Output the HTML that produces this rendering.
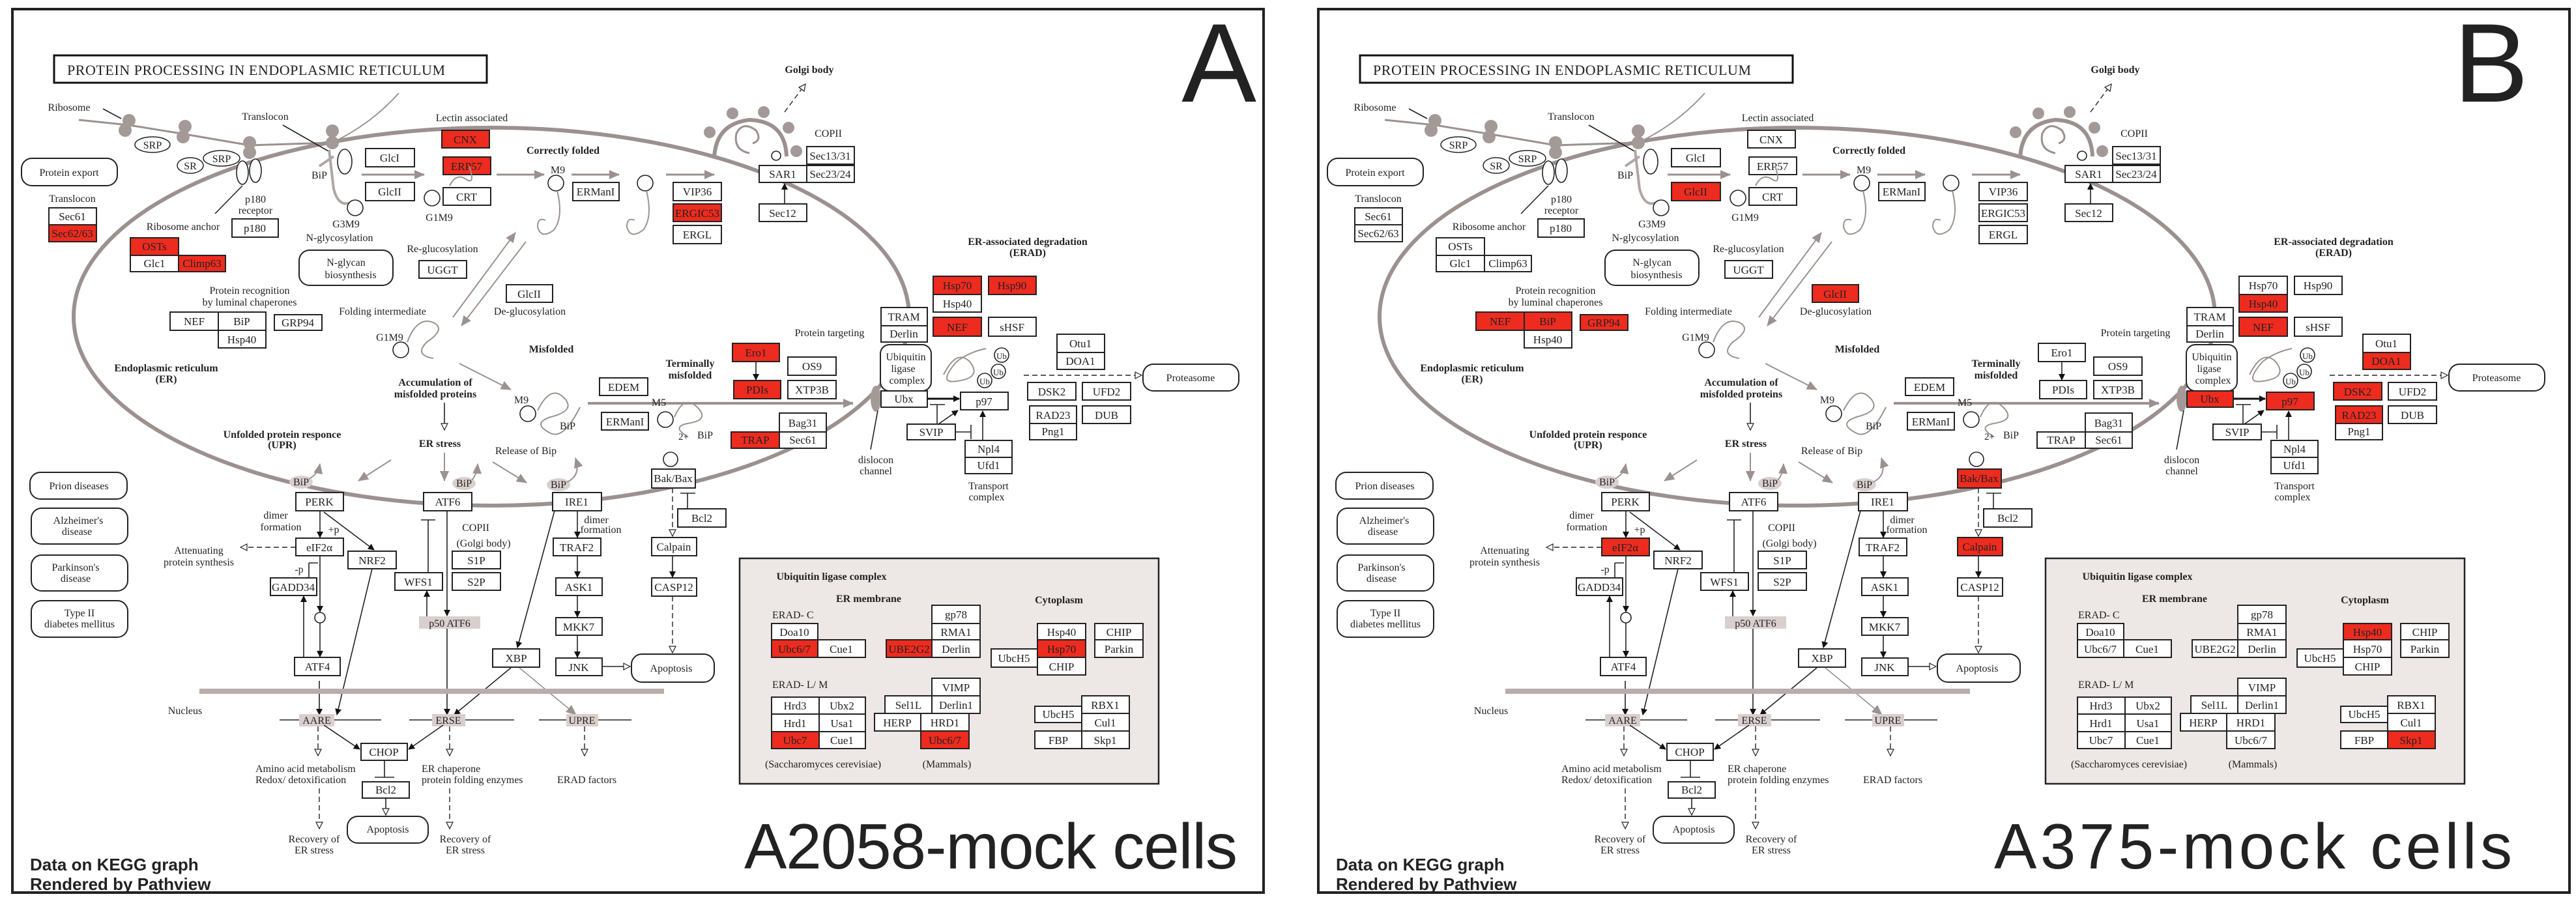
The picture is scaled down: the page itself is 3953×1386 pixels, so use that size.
<!DOCTYPE html>
<html><head><meta charset="utf-8"><style>
html,body{margin:0;padding:0;background:#fff}
svg{display:block}
text{font-family:"Liberation Serif",serif;fill:#222}
.bx rect{fill:#fff;stroke:#222;stroke-width:2}
.bx rect.r{fill:#ee2b1f}
.bt{font-size:17px;text-anchor:middle}
.lb{font-size:16px;text-anchor:middle}
.bo{font-size:16px;font-weight:bold;text-anchor:middle}
.rr{fill:#fff;stroke:#222;stroke-width:2}
.ln{stroke:#222;stroke-width:1.6;fill:none}
.dl{stroke:#222;stroke-width:1.4;fill:none;stroke-dasharray:8 5}
.gl{stroke:#9b918e;stroke-width:3;fill:none}
.mem{stroke:#9b918e;stroke-width:6;fill:none}
.ci{fill:#fff;stroke:#222;stroke-width:1.6}
.gc{fill:#a39a97}
.hl{fill:#d9d0cd}
.sans{font-family:"Liberation Sans",sans-serif}
</style></head><body>
<svg width="3953" height="1386" viewBox="0 0 3953 1386" xmlns="http://www.w3.org/2000/svg">
<defs>
<marker id="ab" markerWidth="10" markerHeight="10" refX="9" refY="5" orient="auto" markerUnits="userSpaceOnUse"><path d="M0,0 L10,5 L0,10z" fill="#111"/></marker>
<marker id="ao" markerWidth="12" markerHeight="12" refX="11" refY="6" orient="auto" markerUnits="userSpaceOnUse"><path d="M1,1 L11,6 L1,11z" fill="#fff" stroke="#222" stroke-width="1.2"/></marker>
<marker id="ag" markerWidth="16" markerHeight="14" refX="15" refY="7" orient="auto" markerUnits="userSpaceOnUse"><path d="M0,0 L16,7 L0,14z" fill="#9b918e"/></marker>
</defs>
<rect width="3953" height="1386" fill="#fff"/>

<!-- ================= PANEL A ================= -->
<g>
<rect x="19" y="14" width="1920" height="1356" fill="none" stroke="#222" stroke-width="4"/>
<rect x="83" y="85" width="664" height="42" fill="#fff" stroke="#111" stroke-width="3"/>
<text x="103" y="115" style="font-size:22px" textLength="580">PROTEIN PROCESSING IN ENDOPLASMIC RETICULUM</text>

<ellipse class="mem" cx="754" cy="486" rx="641" ry="290"/>
<path d="M1096,243 Q1098,190 1150,184 Q1205,186 1207,240" stroke="#9b918e" stroke-width="6" fill="none"/>
<path d="M1150,235 q-25,-5 -20,-30 q10,-20 30,-5 q10,15 -5,20" class="gl" stroke-width="2"/>
<circle class="gc" cx="1089" cy="203" r="9"/><circle class="gc" cx="1124" cy="174" r="9"/><circle class="gc" cx="1172" cy="172" r="9"/><circle class="gc" cx="1210" cy="196" r="9"/><circle class="gc" cx="1222" cy="232" r="9"/>
<circle class="ci" cx="1191" cy="239" r="7"/>
<path class="dl" d="M1204,172 L1236,129" marker-end="url(#ao)"/>
<text class="bo" x="1242" y="112">Golgi body</text>
<text class="lb" x="1271" y="210">COPII</text>

<!-- ribosomes -->
<text class="lb" x="106" y="170">Ribosome</text>
<path class="ln" d="M158,167 L186,182" stroke="#666"/>
<path d="M121,184 L198,192 L284,206 L383,223 L510,219" stroke="#9b918e" stroke-width="3" fill="none"/>
<path d="M510,219 Q570,190 612,143" stroke="#9b918e" stroke-width="2" fill="none"/>
<circle class="gc" cx="198" cy="185" r="10"/><circle class="gc" cx="192" cy="200" r="10"/>
<circle class="gc" cx="284" cy="194" r="10"/><circle class="gc" cx="281" cy="210" r="10"/>
<circle class="gc" cx="383" cy="219" r="10"/><circle class="gc" cx="383" cy="234" r="10"/>
<circle class="gc" cx="510" cy="201" r="10"/><circle class="gc" cx="510" cy="219" r="10"/>
<ellipse cx="234" cy="222" rx="27" ry="12" fill="#fff" stroke="#222" stroke-width="1.5"/><text class="lb" x="234" y="228">SRP</text>
<ellipse cx="292" cy="254" rx="20" ry="12" fill="#fff" stroke="#222" stroke-width="1.5"/><text class="lb" x="292" y="260">SR</text>
<ellipse cx="340" cy="243" rx="28" ry="12" fill="#fff" stroke="#222" stroke-width="1.5"/><text class="lb" x="340" y="249">SRP</text>
<text class="lb" x="407" y="184">Translocon</text>
<path class="ln" d="M434,192 L504,232" stroke-width="1"/>
<path class="ln" d="M372,285 L330,328" stroke-width="1"/>
<ellipse class="ci" cx="372" cy="265" rx="9" ry="18"/><ellipse class="ci" cx="392" cy="262" rx="9" ry="18"/>
<text class="lb" x="392" y="311">p180</text><text class="lb" x="392" y="328">receptor</text>
<g class="bx"><rect x="356" y="336" width="71" height="28"/><text class="bt" x="391" y="356">p180</text></g>
<text class="lb" x="281" y="353">Ribosome anchor</text>
<g class="bx"><rect class="r" x="200" y="365" width="74" height="27"/><text class="bt" x="237" y="384">OSTs</text>
<rect x="200" y="392" width="74" height="25"/><text class="bt" x="237" y="410">Glc1</text>
<rect class="r" x="274" y="392" width="72" height="25"/><text class="bt" x="310" y="410">Climp63</text></g>

<rect class="rr" x="33" y="243" width="147" height="42" rx="16"/><text class="lb" x="106" y="270">Protein export</text>
<text class="lb" x="111" y="310">Translocon</text>
<g class="bx"><rect x="75" y="319" width="73" height="26"/><text class="bt" x="111" y="338">Sec61</text>
<rect class="r" x="75" y="345" width="73" height="26"/><text class="bt" x="111" y="364">Sec62/63</text></g>

<!-- BiP / glycosylation -->
<path d="M505,230 L512,290 Q520,320 540,310 M512,240 L490,255" stroke="#b0a6a3" stroke-width="4" fill="none"/>
<text class="lb" x="490" y="274">BiP</text>
<ellipse class="ci" cx="529" cy="248" rx="11" ry="19"/>
<circle class="ci" cx="545" cy="319" r="12"/>
<text class="lb" x="531" y="349">G3M9</text>
<text class="lb" x="521" y="370">N-glycosylation</text>
<rect class="rr" x="459" y="384" width="144" height="54" rx="16"/><text class="lb" x="531" y="408">N-glycan</text><text class="lb" x="538" y="427">biosynthesis</text>
<g class="bx"><rect x="561" y="228" width="75" height="28"/><text class="bt" x="598" y="248">GlcI</text>
<rect x="561" y="280" width="75" height="28"/><text class="bt" x="598" y="300">GlcII</text></g>
<path class="gl" d="M555,268 L651,268" marker-end="url(#ag)"/>
<text class="lb" x="724" y="186">Lectin associated</text>
<g class="bx"><rect class="r" x="678" y="200" width="73" height="27"/><text class="bt" x="714" y="220">CNX</text>
<rect class="r" x="680" y="241" width="73" height="27"/><text class="bt" x="716" y="261">ERP57</text>
<rect x="680" y="288" width="73" height="27"/><text class="bt" x="716" y="308">CRT</text></g>
<path d="M690,285 q10,-20 25,-10 q15,10 5,-20" stroke="#9b918e" stroke-width="2" fill="none"/>
<circle class="ci" cx="663" cy="304" r="12"/>
<text class="lb" x="674" y="339">G1M9</text>
<text class="lb" x="679" y="387">Re-glucosylation</text>
<g class="bx"><rect x="643" y="400" width="73" height="27"/><text class="bt" x="679" y="420">UGGT</text></g>
<text class="bo" x="864" y="236">Correctly folded</text>
<path class="gl" d="M762,268 L835,268" marker-end="url(#ag)"/>
<path class="gl" d="M877,268 L950,268" marker-end="url(#ag)"/>
<path class="gl" d="M1022,268 L1096,268" marker-end="url(#ag)"/>
<text class="lb" x="856" y="266">M9</text><circle class="ci" cx="853" cy="281" r="12"/>
<path d="M855,293 q10,40 -5,60 q-20,15 -25,-5 q0,-15 12,-10" stroke="#9b918e" stroke-width="2" fill="none"/>
<circle class="ci" cx="990" cy="281" r="12"/>
<path d="M992,293 q10,40 -5,60 q-20,15 -25,-5 q0,-15 12,-10" stroke="#9b918e" stroke-width="2" fill="none"/>
<g class="bx"><rect x="879" y="280" width="71" height="28"/><text class="bt" x="914" y="300">ERManI</text></g>
<g class="bx"><rect x="1033" y="280" width="74" height="28"/><text class="bt" x="1070" y="300">VIP36</text>
<rect class="r" x="1033" y="313" width="74" height="27"/><text class="bt" x="1070" y="333">ERGIC53</text>
<rect x="1033" y="346" width="74" height="28"/><text class="bt" x="1070" y="366">ERGL</text></g>
<g class="bx"><rect x="1238" y="225" width="73" height="27"/><text class="bt" x="1274" y="245">Sec13/31</text>
<rect x="1165" y="254" width="73" height="26"/><text class="bt" x="1201" y="273">SAR1</text>
<rect x="1238" y="254" width="73" height="26"/><text class="bt" x="1274" y="273">Sec23/24</text>
<rect x="1165" y="313" width="73" height="27"/><text class="bt" x="1201" y="333">Sec12</text></g>
<path class="ln" d="M1204,313 L1204,282" marker-end="url(#ab)"/>

<text class="lb" x="383" y="451">Protein recognition</text><text class="lb" x="383" y="469">by luminal chaperones</text>
<g class="bx"><rect x="261" y="479" width="74" height="28"/><text class="bt" x="298" y="499">NEF</text>
<rect x="335" y="479" width="73" height="28"/><text class="bt" x="371" y="499">BiP</text>
<rect x="335" y="507" width="73" height="27"/><text class="bt" x="371" y="527">Hsp40</text>
<rect x="421" y="483" width="73" height="24"/><text class="bt" x="457" y="501">GRP94</text></g>
<text class="lb" x="587" y="483">Folding intermediate</text>
<g class="bx"><rect x="777" y="437" width="71" height="27"/><text class="bt" x="812" y="457">GlcII</text></g>
<text class="lb" x="813" y="483">De-glucosylation</text>
<path d="M695,487 L791,357" stroke="#9b918e" stroke-width="2" fill="none" marker-end="url(#ag)"/>
<path d="M807,371 L708,500" stroke="#9b918e" stroke-width="2" fill="none" marker-end="url(#ag)"/>
<path d="M625,525 q15,-40 40,-30 q20,10 -10,30 q-20,20 10,25" stroke="#9b918e" stroke-width="2" fill="none"/>
<text class="lb" x="598" y="523">G1M9</text><circle class="ci" cx="615" cy="537" r="12"/>
<text class="bo" x="846" y="541">Misfolded</text>
<text class="bo" x="255" y="570">Endoplasmic reticulum</text><text class="bo" x="255" y="587">(ER)</text>
<text class="bo" x="668" y="592">Accumulation of</text><text class="bo" x="668" y="610">misfolded proteins</text>
<path class="ln" d="M682,618 L682,660" stroke-width="1.2" marker-end="url(#ao)"/>
<text class="bo" x="675" y="686">ER stress</text>
<text class="bo" x="433" y="672">Unfolded protein responce</text><text class="bo" x="433" y="688">(UPR)</text>
<text class="lb" x="807" y="697">Release of Bip</text>
<path d="M705,558 L784,598" stroke="#9b918e" stroke-width="2" fill="none" marker-end="url(#ag)"/>
<text class="lb" x="800" y="619">M9</text><circle class="ci" cx="810" cy="635" r="12"/>
<path d="M825,630 q20,-40 40,-20 q20,20 -20,30 q-30,10 0,25 q20,10 45,-40" stroke="#9b918e" stroke-width="2" fill="none"/>
<text class="lb" x="871" y="659">BiP</text>
<g class="bx"><rect x="920" y="580" width="74" height="27"/><text class="bt" x="957" y="600">EDEM</text>
<rect x="923" y="633" width="72" height="27"/><text class="bt" x="959" y="653">ERManI</text></g>
<path d="M902,619 L1309,619" stroke="#9b918e" stroke-width="4" fill="none" marker-end="url(#ag)"/>
<text class="bo" x="1059" y="563">Terminally</text><text class="bo" x="1059" y="581">misfolded</text>
<text class="lb" x="1011" y="623">M5</text><circle class="ci" cx="1021" cy="644" r="12"/>
<path d="M1035,640 q15,-35 35,-15 q20,20 -15,25 q-25,5 0,20" stroke="#9b918e" stroke-width="2" fill="none"/>
<text class="lb" x="1273" y="516">Protein targeting</text>
<g class="bx"><rect class="r" x="1124" y="527" width="72" height="28"/><text class="bt" x="1160" y="547">Ero1</text>
<rect class="r" x="1126" y="584" width="72" height="28"/><text class="bt" x="1162" y="604">PDIs</text>
<rect x="1209" y="548" width="74" height="28"/><text class="bt" x="1246" y="568">OS9</text>
<rect x="1209" y="584" width="74" height="28"/><text class="bt" x="1246" y="604">XTP3B</text>
<rect x="1196" y="634" width="72" height="29"/><text class="bt" x="1232" y="655">Bag31</text>
<rect class="r" x="1122" y="663" width="74" height="25"/><text class="bt" x="1159" y="681">TRAP</text>
<rect x="1196" y="663" width="72" height="25"/><text class="bt" x="1232" y="681">Sec61</text></g>
<path class="ln" d="M1160,555 L1160,583" marker-end="url(#ab)"/>
<text class="lb" x="1049" y="675" style="font-size:15px">2+</text><text class="lb" x="1082" y="673">BiP</text>
<circle class="ci" cx="1029" cy="705" r="11"/>

<!-- ERAD -->
<text class="bo" x="1577" y="376">ER-associated degradation</text><text class="bo" x="1577" y="393">(ERAD)</text>
<g class="bx"><rect class="r" x="1432" y="424" width="74" height="28"/><text class="bt" x="1469" y="444">Hsp70</text>
<rect class="r" x="1517" y="424" width="73" height="28"/><text class="bt" x="1553" y="444">Hsp90</text>
<rect x="1432" y="452" width="74" height="27"/><text class="bt" x="1469" y="472">Hsp40</text>
<rect class="r" x="1432" y="487" width="74" height="29"/><text class="bt" x="1469" y="508">NEF</text>
<rect x="1517" y="487" width="73" height="29"/><text class="bt" x="1553" y="508">sHSF</text>
<rect x="1352" y="472" width="71" height="28"/><text class="bt" x="1387" y="492">TRAM</text>
<rect x="1352" y="500" width="71" height="25"/><text class="bt" x="1387" y="518">Derlin</text></g>
<rect class="rr" x="1351" y="529" width="78" height="71" rx="14"/>
<text class="lb" x="1390" y="553">Ubiquitin</text><text class="lb" x="1386" y="571">ligase</text><text class="lb" x="1392" y="589">complex</text>
<ellipse cx="1344" cy="612" rx="8" ry="20" fill="#a39a97"/>
<path class="ln" d="M1347,630 L1336,690" stroke-width="1"/>
<text class="lb" x="1344" y="711">dislocon</text><text class="lb" x="1344" y="728">channel</text>
<g class="bx"><rect x="1352" y="600" width="71" height="25"/><text class="bt" x="1387" y="618">Ubx</text>
<rect x="1474" y="602" width="73" height="27"/><text class="bt" x="1510" y="622">p97</text>
<rect x="1392" y="651" width="74" height="24"/><text class="bt" x="1429" y="669">SVIP</text>
<rect x="1481" y="676" width="72" height="26"/><text class="bt" x="1517" y="695">Npl4</text>
<rect x="1481" y="702" width="72" height="25"/><text class="bt" x="1517" y="720">Ufd1</text></g>
<path d="M1423,612 L1472,612" stroke="#111" stroke-width="3" marker-end="url(#ab)"/>
<path class="ln" d="M1440,651 L1470,630" marker-end="url(#ab)"/>
<path class="ln" d="M1438,651 L1438,621 M1427,621 L1450,621"/>
<path class="ln" d="M1466,663 L1490,663 M1490,652 L1490,674"/>
<path class="ln" d="M1508,676 L1508,631" marker-end="url(#ab)"/>
<text class="lb" x="1517" y="751">Transport</text><text class="lb" x="1514" y="768">complex</text>
<path d="M1448,575 q20,-40 40,-20 q20,25 -20,30 q-30,5 0,-30 q20,-15 45,-20" stroke="#9b918e" stroke-width="2" fill="none"/>
<circle class="ci" cx="1537" cy="545" r="11"/><text class="lb" x="1537" y="551" style="font-size:13px">Ub</text>
<circle class="ci" cx="1532" cy="570" r="11"/><text class="lb" x="1532" y="576" style="font-size:13px">Ub</text>
<circle class="ci" cx="1511" cy="584" r="11"/><text class="lb" x="1511" y="590" style="font-size:13px">Ub</text>
<g class="bx"><rect x="1622" y="513" width="73" height="28"/><text class="bt" x="1658" y="533">Otu1</text>
<rect x="1622" y="541" width="73" height="26"/><text class="bt" x="1658" y="560">DOA1</text>
<rect x="1577" y="587" width="74" height="27"/><text class="bt" x="1614" y="607">DSK2</text>
<rect x="1661" y="587" width="74" height="27"/><text class="bt" x="1698" y="607">UFD2</text>
<rect x="1580" y="623" width="72" height="27"/><text class="bt" x="1616" y="643">RAD23</text>
<rect x="1580" y="650" width="72" height="25"/><text class="bt" x="1616" y="668">Png1</text>
<rect x="1661" y="623" width="74" height="27"/><text class="bt" x="1698" y="643">DUB</text></g>
<path class="dl" d="M1571,576 L1752,576" marker-end="url(#ao)"/>
<rect class="rr" x="1754" y="559" width="147" height="41" rx="16"/><text class="lb" x="1827" y="585">Proteasome</text>

<!-- Bak/Bax -->
<g class="bx"><rect x="1000" y="720" width="67" height="29"/><text class="bt" x="1033" y="740">Bak/Bax</text>
<rect x="1040" y="781" width="74" height="28"/><text class="bt" x="1077" y="801">Bcl2</text>
<rect x="1000" y="825" width="69" height="28"/><text class="bt" x="1034" y="845">Calpain</text>
<rect x="1000" y="887" width="69" height="28"/><text class="bt" x="1034" y="907">CASP12</text></g>
<path class="dl" d="M1032,749 L1032,823" marker-end="url(#ao)"/>
<path class="ln" d="M1055,781 L1055,757 M1044,757 L1067,757"/>
<path class="ln" d="M1032,853 L1032,886" marker-end="url(#ab)"/>
<path class="dl" d="M1032,915 L1032,1002" marker-end="url(#ao)"/>
<rect class="rr" x="969" y="1004" width="127" height="43" rx="16"/><text class="lb" x="1030" y="1031">Apoptosis</text>

<!-- diseases -->
<rect class="rr" x="46" y="725" width="149" height="41" rx="16"/><text class="lb" x="121" y="751">Prion diseases</text>
<rect class="rr" x="48" y="780" width="148" height="55" rx="16"/><text class="lb" x="120" y="804">Alzheimer's</text><text class="lb" x="118" y="821">disease</text>
<rect class="rr" x="48" y="852" width="148" height="55" rx="16"/><text class="lb" x="116" y="876">Parkinson's</text><text class="lb" x="116" y="893">disease</text>
<rect class="rr" x="48" y="922" width="148" height="56" rx="16"/><text class="lb" x="122" y="946">Type II</text><text class="lb" x="122" y="963">diabetes mellitus</text>

<!-- UPR -->
<ellipse class="hl" cx="462" cy="740" rx="18" ry="10"/><text class="lb" x="462" y="745">BiP</text>
<ellipse class="hl" cx="712" cy="742" rx="18" ry="10"/><text class="lb" x="712" y="747">BiP</text>
<ellipse class="hl" cx="857" cy="744" rx="18" ry="10"/><text class="lb" x="857" y="749">BiP</text>
<path d="M474,735 Q488,728 491,712" stroke="#9b918e" stroke-width="2" fill="none" marker-end="url(#ag)"/>
<path d="M724,737 Q732,728 733,712" stroke="#9b918e" stroke-width="2" fill="none" marker-end="url(#ag)"/>
<path d="M870,740 Q892,730 883,703" stroke="#9b918e" stroke-width="2" fill="none" marker-end="url(#ag)"/>
<path d="M600,706 L550,738" stroke="#9b918e" stroke-width="2" fill="none" marker-end="url(#ag)"/>
<path d="M682,695 L682,738" stroke="#9b918e" stroke-width="2" fill="none" marker-end="url(#ag)"/>
<path d="M756,709 L808,741" stroke="#9b918e" stroke-width="2" fill="none" marker-end="url(#ag)"/>
<g class="bx"><rect x="454" y="756" width="73" height="28"/><text class="bt" x="490" y="776">PERK</text>
<rect x="650" y="756" width="74" height="28"/><text class="bt" x="687" y="776">ATF6</text>
<rect x="848" y="756" width="75" height="28"/><text class="bt" x="885" y="776">IRE1</text>
<rect x="454" y="826" width="73" height="27"/><text class="bt" x="490" y="846">eIF2α</text>
<rect x="534" y="846" width="74" height="27"/><text class="bt" x="571" y="866">NRF2</text>
<rect x="415" y="887" width="71" height="27"/><text class="bt" x="450" y="907">GADD34</text>
<rect x="606" y="879" width="73" height="27"/><text class="bt" x="642" y="899">WFS1</text>
<rect x="694" y="846" width="74" height="27"/><text class="bt" x="731" y="866">S1P</text>
<rect x="694" y="879" width="74" height="27"/><text class="bt" x="731" y="899">S2P</text>
<rect x="849" y="826" width="73" height="27"/><text class="bt" x="885" y="846">TRAF2</text>
<rect x="853" y="887" width="71" height="27"/><text class="bt" x="888" y="907">ASK1</text>
<rect x="853" y="948" width="71" height="27"/><text class="bt" x="888" y="968">MKK7</text>
<rect x="853" y="1010" width="71" height="27"/><text class="bt" x="888" y="1030">JNK</text>
<rect x="756" y="996" width="72" height="28"/><text class="bt" x="792" y="1016">XBP</text>
<rect x="452" y="1009" width="70" height="28"/><text class="bt" x="487" y="1029">ATF4</text>
<rect x="554" y="1141" width="71" height="26"/><text class="bt" x="589" y="1160">CHOP</text>
<rect x="556" y="1200" width="72" height="25"/><text class="bt" x="592" y="1218">Bcl2</text></g>
<text class="lb" x="423" y="796">dimer</text><text class="lb" x="431" y="814">formation</text><text class="lb" x="512" y="818">+p</text>
<text class="lb" x="305" y="850">Attenuating</text><text class="lb" x="305" y="868">protein synthesis</text>
<text class="lb" x="459" y="879">-p</text>
<text class="lb" x="915" y="803">dimer</text><text class="lb" x="922" y="818">formation</text>
<text class="lb" x="730" y="815">COPII</text><text class="lb" x="742" y="839">(Golgi body)</text>
<rect class="hl" x="643" y="946" width="94" height="19"/><text class="lb" x="690" y="962">p50 ATF6</text>
<path class="ln" d="M491,784 L491,825" marker-end="url(#ab)"/>
<path class="ln" d="M497,786 L574,844" stroke-width="1.1" marker-end="url(#ab)"/>
<path class="dl" d="M454,840 L369,840" marker-end="url(#ao)"/>
<path class="ln" d="M474,887 L474,864 M474,864 L488,864"/>
<path class="ln" d="M491,853 L491,939" marker-end="url(#ab)"/>
<circle class="ci" cx="491" cy="948" r="8"/>
<path class="ln" d="M491,956 L491,1008" marker-end="url(#ab)"/>
<path class="ln" d="M466,1009 L466,915" marker-end="url(#ab)"/>
<path class="ln" d="M490,1045 L490,1097" marker-end="url(#ab)"/>
<path class="ln" d="M571,873 L517,1097" stroke-width="1.2" marker-end="url(#ab)"/>
<path class="ln" d="M686,784 L686,945" stroke-width="1.2" marker-end="url(#ab)"/>
<path class="ln" d="M686,965 L686,1097" stroke-width="1.2" marker-end="url(#ab)"/>
<path class="ln" d="M655,946 L655,907" marker-end="url(#ab)"/>
<path class="ln" d="M657,879 L657,798 M646,798 L668,798"/>
<path class="ln" d="M851,784 L794,994" stroke-width="1.2" marker-end="url(#ab)"/>
<path class="ln" d="M886,784 L886,825" marker-end="url(#ab)"/>
<path class="ln" d="M886,853 L886,886" marker-end="url(#ab)"/>
<path class="ln" d="M886,914 L886,947" marker-end="url(#ab)"/>
<path class="ln" d="M886,975 L886,1009" marker-end="url(#ab)"/>
<path class="ln" d="M925,1023 L967,1023" stroke-width="1.2" marker-end="url(#ao)"/>
<path class="ln" d="M784,1025 L697,1097" stroke-width="1.2" marker-end="url(#ab)"/>
<path d="M797,1025 L884,1097" stroke="#7f7572" stroke-width="1.2" fill="none" marker-end="url(#ag)"/>
<rect x="306" y="1057" width="713" height="8" fill="#b8aeab"/>
<text class="lb" x="284" y="1096">Nucleus</text>
<path class="ln" d="M429,1105 L585,1105 M628,1105 L789,1105 M827,1105 L969,1105"/>
<rect class="hl" x="459" y="1096" width="54" height="19"/><text class="lb" x="486" y="1111">AARE</text>
<rect class="hl" x="663" y="1096" width="51" height="19"/><text class="lb" x="688" y="1111">ERSE</text>
<rect class="hl" x="869" y="1096" width="49" height="19"/><text class="lb" x="893" y="1111">UPRE</text>
<path class="ln" d="M497,1113 L552,1150" stroke-width="1.2" marker-end="url(#ab)"/>
<path class="ln" d="M680,1113 L627,1150" stroke-width="1.2" marker-end="url(#ab)"/>
<path class="dl" d="M488,1115 L488,1160" stroke-width="1" marker-end="url(#ao)"/>
<path class="dl" d="M690,1115 L690,1160" stroke-width="1" marker-end="url(#ao)"/>
<path class="dl" d="M897,1115 L897,1160" stroke-width="1" marker-end="url(#ao)"/>
<text x="392" y="1185" style="font-size:16px">Amino acid metabolism</text><text x="392" y="1202" style="font-size:16px">Redox/ detoxification</text>
<text x="647" y="1185" style="font-size:16px">ER chaperone</text><text x="647" y="1202" style="font-size:16px">protein folding enzymes</text>
<text x="855" y="1202" style="font-size:16px">ERAD factors</text>
<path class="ln" d="M590,1167 L590,1193 M575,1193 L605,1193"/>
<path class="ln" d="M592,1225 L592,1251" marker-end="url(#ao)"/>
<rect class="rr" x="533" y="1253" width="124" height="41" rx="16"/><text class="lb" x="595" y="1278">Apoptosis</text>
<path class="dl" d="M490,1210 L490,1272" stroke-width="1" marker-end="url(#ao)"/>
<path class="dl" d="M690,1210 L690,1272" stroke-width="1" marker-end="url(#ao)"/>
<text class="lb" x="482" y="1293">Recovery of</text><text class="lb" x="482" y="1310">ER stress</text>
<text class="lb" x="714" y="1293">Recovery of</text><text class="lb" x="714" y="1310">ER stress</text>

<!-- Ubiquitin ligase complex -->
<rect x="1135" y="857" width="643" height="346" fill="#ede7e5" stroke="#222" stroke-width="2.5"/>
<text class="bo" x="1276" y="890">Ubiquitin ligase complex</text>
<text class="bo" x="1333" y="924">ER membrane</text>
<text class="bo" x="1625" y="926">Cytoplasm</text>
<text x="1185" y="949" style="font-size:16px">ERAD- C</text>
<text x="1185" y="1056" style="font-size:16px">ERAD- L/ M</text>
<g class="bx">
<rect x="1184" y="957" width="71" height="25"/><text class="bt" x="1219" y="976">Doa10</text>
<rect class="r" x="1184" y="982" width="71" height="27"/><text class="bt" x="1219" y="1002">Ubc6/7</text>
<rect x="1255" y="982" width="73" height="27"/><text class="bt" x="1291" y="1002">Cue1</text>
<rect x="1430" y="929" width="74" height="28"/><text class="bt" x="1467" y="949">gp78</text>
<rect x="1430" y="957" width="74" height="25"/><text class="bt" x="1467" y="976">RMA1</text>
<rect x="1430" y="982" width="74" height="27"/><text class="bt" x="1467" y="1002">Derlin</text>
<rect class="r" x="1360" y="982" width="70" height="27"/><text class="bt" x="1395" y="1002">UBE2G2</text>
<rect x="1592" y="957" width="74" height="25"/><text class="bt" x="1629" y="976">Hsp40</text>
<rect class="r" x="1592" y="982" width="74" height="27"/><text class="bt" x="1629" y="1002">Hsp70</text>
<rect x="1592" y="1009" width="74" height="27"/><text class="bt" x="1629" y="1029">CHIP</text>
<rect x="1521" y="996" width="71" height="28"/><text class="bt" x="1556" y="1016">UbcH5</text>
<rect x="1680" y="957" width="74" height="25"/><text class="bt" x="1717" y="976">CHIP</text>
<rect x="1680" y="982" width="74" height="27"/><text class="bt" x="1717" y="1002">Parkin</text>
<rect x="1184" y="1070" width="73" height="26"/><text class="bt" x="1220" y="1089">Hrd3</text>
<rect x="1184" y="1096" width="73" height="27"/><text class="bt" x="1220" y="1116">Hrd1</text>
<rect class="r" x="1184" y="1123" width="73" height="26"/><text class="bt" x="1220" y="1142">Ubc7</text>
<rect x="1257" y="1070" width="71" height="26"/><text class="bt" x="1292" y="1089">Ubx2</text>
<rect x="1257" y="1096" width="71" height="27"/><text class="bt" x="1292" y="1116">Usa1</text>
<rect x="1257" y="1123" width="71" height="26"/><text class="bt" x="1292" y="1142">Cue1</text>
<rect x="1430" y="1041" width="74" height="27"/><text class="bt" x="1467" y="1061">VIMP</text>
<rect x="1430" y="1068" width="74" height="27"/><text class="bt" x="1467" y="1088">Derlin1</text>
<rect x="1358" y="1068" width="72" height="27"/><text class="bt" x="1394" y="1088">Sel1L</text>
<rect x="1342" y="1095" width="71" height="27"/><text class="bt" x="1377" y="1115">HERP</text>
<rect x="1413" y="1095" width="74" height="27"/><text class="bt" x="1450" y="1115">HRD1</text>
<rect class="r" x="1413" y="1122" width="74" height="27"/><text class="bt" x="1450" y="1142">Ubc6/7</text>
<rect x="1660" y="1068" width="73" height="27"/><text class="bt" x="1696" y="1088">RBX1</text>
<rect x="1660" y="1095" width="73" height="27"/><text class="bt" x="1696" y="1115">Cul1</text>
<rect x="1660" y="1122" width="73" height="27"/><text class="bt" x="1696" y="1142">Skp1</text>
<rect x="1588" y="1084" width="72" height="25"/><text class="bt" x="1624" y="1102">UbcH5</text>
<rect x="1588" y="1122" width="72" height="27"/><text class="bt" x="1624" y="1142">FBP</text>
</g>
<text class="lb" x="1263" y="1178">(Saccharomyces cerevisiae)</text>
<text class="lb" x="1453" y="1178">(Mammals)</text>

<text class="sans" x="1928" y="156" text-anchor="end" style="font-size:172px">A</text>
<text class="sans" x="1142" y="1333" style="font-size:98px" textLength="757">A2058-mock cells</text>
<text class="sans" x="46" y="1336" style="font-size:26px;font-weight:bold">Data on KEGG graph</text>
<text class="sans" x="46" y="1366" style="font-size:26px;font-weight:bold">Rendered by Pathview</text>
</g>

<!-- ================= PANEL B ================= -->
<g transform="translate(2004,0)">
<rect x="19" y="14" width="1920" height="1356" fill="none" stroke="#222" stroke-width="4"/>
<rect x="83" y="85" width="664" height="42" fill="#fff" stroke="#111" stroke-width="3"/>
<text x="103" y="115" style="font-size:22px" textLength="580">PROTEIN PROCESSING IN ENDOPLASMIC RETICULUM</text>

<ellipse class="mem" cx="754" cy="486" rx="641" ry="290"/>
<path d="M1096,243 Q1098,190 1150,184 Q1205,186 1207,240" stroke="#9b918e" stroke-width="6" fill="none"/>
<path d="M1150,235 q-25,-5 -20,-30 q10,-20 30,-5 q10,15 -5,20" class="gl" stroke-width="2"/>
<circle class="gc" cx="1089" cy="203" r="9"/><circle class="gc" cx="1124" cy="174" r="9"/><circle class="gc" cx="1172" cy="172" r="9"/><circle class="gc" cx="1210" cy="196" r="9"/><circle class="gc" cx="1222" cy="232" r="9"/>
<circle class="ci" cx="1191" cy="239" r="7"/>
<path class="dl" d="M1204,172 L1236,129" marker-end="url(#ao)"/>
<text class="bo" x="1242" y="112">Golgi body</text>
<text class="lb" x="1271" y="210">COPII</text>

<text class="lb" x="106" y="170">Ribosome</text>
<path class="ln" d="M158,167 L186,182" stroke="#666"/>
<path d="M121,184 L198,192 L284,206 L383,223 L510,219" stroke="#9b918e" stroke-width="3" fill="none"/>
<path d="M510,219 Q570,190 612,143" stroke="#9b918e" stroke-width="2" fill="none"/>
<circle class="gc" cx="198" cy="185" r="10"/><circle class="gc" cx="192" cy="200" r="10"/>
<circle class="gc" cx="284" cy="194" r="10"/><circle class="gc" cx="281" cy="210" r="10"/>
<circle class="gc" cx="383" cy="219" r="10"/><circle class="gc" cx="383" cy="234" r="10"/>
<circle class="gc" cx="510" cy="201" r="10"/><circle class="gc" cx="510" cy="219" r="10"/>
<ellipse cx="234" cy="222" rx="27" ry="12" fill="#fff" stroke="#222" stroke-width="1.5"/><text class="lb" x="234" y="228">SRP</text>
<ellipse cx="292" cy="254" rx="20" ry="12" fill="#fff" stroke="#222" stroke-width="1.5"/><text class="lb" x="292" y="260">SR</text>
<ellipse cx="340" cy="243" rx="28" ry="12" fill="#fff" stroke="#222" stroke-width="1.5"/><text class="lb" x="340" y="249">SRP</text>
<text class="lb" x="407" y="184">Translocon</text>
<path class="ln" d="M434,192 L504,232" stroke-width="1"/>
<path class="ln" d="M372,285 L330,328" stroke-width="1"/>
<ellipse class="ci" cx="372" cy="265" rx="9" ry="18"/><ellipse class="ci" cx="392" cy="262" rx="9" ry="18"/>
<text class="lb" x="392" y="311">p180</text><text class="lb" x="392" y="328">receptor</text>
<g class="bx"><rect x="356" y="336" width="71" height="28"/><text class="bt" x="391" y="356">p180</text></g>
<text class="lb" x="281" y="353">Ribosome anchor</text>
<g class="bx"><rect x="200" y="365" width="74" height="27"/><text class="bt" x="237" y="384">OSTs</text>
<rect x="200" y="392" width="74" height="25"/><text class="bt" x="237" y="410">Glc1</text>
<rect x="274" y="392" width="72" height="25"/><text class="bt" x="310" y="410">Climp63</text></g>

<rect class="rr" x="33" y="243" width="147" height="42" rx="16"/><text class="lb" x="106" y="270">Protein export</text>
<text class="lb" x="111" y="310">Translocon</text>
<g class="bx"><rect x="75" y="319" width="73" height="26"/><text class="bt" x="111" y="338">Sec61</text>
<rect x="75" y="345" width="73" height="26"/><text class="bt" x="111" y="364">Sec62/63</text></g>

<path d="M505,230 L512,290 Q520,320 540,310 M512,240 L490,255" stroke="#b0a6a3" stroke-width="4" fill="none"/>
<text class="lb" x="490" y="274">BiP</text>
<ellipse class="ci" cx="529" cy="248" rx="11" ry="19"/>
<circle class="ci" cx="545" cy="319" r="12"/>
<text class="lb" x="531" y="349">G3M9</text>
<text class="lb" x="521" y="370">N-glycosylation</text>
<rect class="rr" x="459" y="384" width="144" height="54" rx="16"/><text class="lb" x="531" y="408">N-glycan</text><text class="lb" x="538" y="427">biosynthesis</text>
<g class="bx"><rect x="561" y="228" width="75" height="28"/><text class="bt" x="598" y="248">GlcI</text>
<rect class="r" x="561" y="280" width="75" height="28"/><text class="bt" x="598" y="300">GlcII</text></g>
<path class="gl" d="M555,268 L651,268" marker-end="url(#ag)"/>
<text class="lb" x="724" y="186">Lectin associated</text>
<g class="bx"><rect x="678" y="200" width="73" height="27"/><text class="bt" x="714" y="220">CNX</text>
<rect x="680" y="241" width="73" height="27"/><text class="bt" x="716" y="261">ERP57</text>
<rect x="680" y="288" width="73" height="27"/><text class="bt" x="716" y="308">CRT</text></g>
<path d="M690,285 q10,-20 25,-10 q15,10 5,-20" stroke="#9b918e" stroke-width="2" fill="none"/>
<circle class="ci" cx="663" cy="304" r="12"/>
<text class="lb" x="674" y="339">G1M9</text>
<text class="lb" x="679" y="387">Re-glucosylation</text>
<g class="bx"><rect x="643" y="400" width="73" height="27"/><text class="bt" x="679" y="420">UGGT</text></g>
<text class="bo" x="864" y="236">Correctly folded</text>
<path class="gl" d="M762,268 L835,268" marker-end="url(#ag)"/>
<path class="gl" d="M877,268 L950,268" marker-end="url(#ag)"/>
<path class="gl" d="M1022,268 L1096,268" marker-end="url(#ag)"/>
<text class="lb" x="856" y="266">M9</text><circle class="ci" cx="853" cy="281" r="12"/>
<path d="M855,293 q10,40 -5,60 q-20,15 -25,-5 q0,-15 12,-10" stroke="#9b918e" stroke-width="2" fill="none"/>
<circle class="ci" cx="990" cy="281" r="12"/>
<path d="M992,293 q10,40 -5,60 q-20,15 -25,-5 q0,-15 12,-10" stroke="#9b918e" stroke-width="2" fill="none"/>
<g class="bx"><rect x="879" y="280" width="71" height="28"/><text class="bt" x="914" y="300">ERManI</text></g>
<g class="bx"><rect x="1033" y="280" width="74" height="28"/><text class="bt" x="1070" y="300">VIP36</text>
<rect x="1033" y="313" width="74" height="27"/><text class="bt" x="1070" y="333">ERGIC53</text>
<rect x="1033" y="346" width="74" height="28"/><text class="bt" x="1070" y="366">ERGL</text></g>
<g class="bx"><rect x="1238" y="225" width="73" height="27"/><text class="bt" x="1274" y="245">Sec13/31</text>
<rect x="1165" y="254" width="73" height="26"/><text class="bt" x="1201" y="273">SAR1</text>
<rect x="1238" y="254" width="73" height="26"/><text class="bt" x="1274" y="273">Sec23/24</text>
<rect x="1165" y="313" width="73" height="27"/><text class="bt" x="1201" y="333">Sec12</text></g>
<path class="ln" d="M1204,313 L1204,282" marker-end="url(#ab)"/>

<text class="lb" x="383" y="451">Protein recognition</text><text class="lb" x="383" y="469">by luminal chaperones</text>
<g class="bx"><rect class="r" x="261" y="479" width="74" height="28"/><text class="bt" x="298" y="499">NEF</text>
<rect class="r" x="335" y="479" width="73" height="28"/><text class="bt" x="371" y="499">BiP</text>
<rect x="335" y="507" width="73" height="27"/><text class="bt" x="371" y="527">Hsp40</text>
<rect class="r" x="421" y="483" width="73" height="24"/><text class="bt" x="457" y="501">GRP94</text></g>
<text class="lb" x="587" y="483">Folding intermediate</text>
<g class="bx"><rect class="r" x="777" y="437" width="71" height="27"/><text class="bt" x="812" y="457">GlcII</text></g>
<text class="lb" x="813" y="483">De-glucosylation</text>
<path d="M695,487 L791,357" stroke="#9b918e" stroke-width="2" fill="none" marker-end="url(#ag)"/>
<path d="M807,371 L708,500" stroke="#9b918e" stroke-width="2" fill="none" marker-end="url(#ag)"/>
<path d="M625,525 q15,-40 40,-30 q20,10 -10,30 q-20,20 10,25" stroke="#9b918e" stroke-width="2" fill="none"/>
<text class="lb" x="598" y="523">G1M9</text><circle class="ci" cx="615" cy="537" r="12"/>
<text class="bo" x="846" y="541">Misfolded</text>
<text class="bo" x="255" y="570">Endoplasmic reticulum</text><text class="bo" x="255" y="587">(ER)</text>
<text class="bo" x="668" y="592">Accumulation of</text><text class="bo" x="668" y="610">misfolded proteins</text>
<path class="ln" d="M682,618 L682,660" stroke-width="1.2" marker-end="url(#ao)"/>
<text class="bo" x="675" y="686">ER stress</text>
<text class="bo" x="433" y="672">Unfolded protein responce</text><text class="bo" x="433" y="688">(UPR)</text>
<text class="lb" x="807" y="697">Release of Bip</text>
<path d="M705,558 L784,598" stroke="#9b918e" stroke-width="2" fill="none" marker-end="url(#ag)"/>
<text class="lb" x="800" y="619">M9</text><circle class="ci" cx="810" cy="635" r="12"/>
<path d="M825,630 q20,-40 40,-20 q20,20 -20,30 q-30,10 0,25 q20,10 45,-40" stroke="#9b918e" stroke-width="2" fill="none"/>
<text class="lb" x="871" y="659">BiP</text>
<g class="bx"><rect x="920" y="580" width="74" height="27"/><text class="bt" x="957" y="600">EDEM</text>
<rect x="923" y="633" width="72" height="27"/><text class="bt" x="959" y="653">ERManI</text></g>
<path d="M902,619 L1309,619" stroke="#9b918e" stroke-width="4" fill="none" marker-end="url(#ag)"/>
<text class="bo" x="1059" y="563">Terminally</text><text class="bo" x="1059" y="581">misfolded</text>
<text class="lb" x="1011" y="623">M5</text><circle class="ci" cx="1021" cy="644" r="12"/>
<path d="M1035,640 q15,-35 35,-15 q20,20 -15,25 q-25,5 0,20" stroke="#9b918e" stroke-width="2" fill="none"/>
<text class="lb" x="1273" y="516">Protein targeting</text>
<g class="bx"><rect x="1124" y="527" width="72" height="28"/><text class="bt" x="1160" y="547">Ero1</text>
<rect x="1126" y="584" width="72" height="28"/><text class="bt" x="1162" y="604">PDIs</text>
<rect x="1209" y="548" width="74" height="28"/><text class="bt" x="1246" y="568">OS9</text>
<rect x="1209" y="584" width="74" height="28"/><text class="bt" x="1246" y="604">XTP3B</text>
<rect x="1196" y="634" width="72" height="29"/><text class="bt" x="1232" y="655">Bag31</text>
<rect x="1122" y="663" width="74" height="25"/><text class="bt" x="1159" y="681">TRAP</text>
<rect x="1196" y="663" width="72" height="25"/><text class="bt" x="1232" y="681">Sec61</text></g>
<path class="ln" d="M1160,555 L1160,583" marker-end="url(#ab)"/>
<text class="lb" x="1049" y="675" style="font-size:15px">2+</text><text class="lb" x="1082" y="673">BiP</text>
<circle class="ci" cx="1029" cy="705" r="11"/>

<text class="bo" x="1577" y="376">ER-associated degradation</text><text class="bo" x="1577" y="393">(ERAD)</text>
<g class="bx"><rect x="1432" y="424" width="74" height="28"/><text class="bt" x="1469" y="444">Hsp70</text>
<rect x="1517" y="424" width="73" height="28"/><text class="bt" x="1553" y="444">Hsp90</text>
<rect class="r" x="1432" y="452" width="74" height="27"/><text class="bt" x="1469" y="472">Hsp40</text>
<rect class="r" x="1432" y="487" width="74" height="29"/><text class="bt" x="1469" y="508">NEF</text>
<rect x="1517" y="487" width="73" height="29"/><text class="bt" x="1553" y="508">sHSF</text>
<rect x="1352" y="472" width="71" height="28"/><text class="bt" x="1387" y="492">TRAM</text>
<rect x="1352" y="500" width="71" height="25"/><text class="bt" x="1387" y="518">Derlin</text></g>
<rect class="rr" x="1351" y="529" width="78" height="71" rx="14"/>
<text class="lb" x="1390" y="553">Ubiquitin</text><text class="lb" x="1386" y="571">ligase</text><text class="lb" x="1392" y="589">complex</text>
<ellipse cx="1344" cy="612" rx="8" ry="20" fill="#a39a97"/>
<path class="ln" d="M1347,630 L1336,690" stroke-width="1"/>
<text class="lb" x="1344" y="711">dislocon</text><text class="lb" x="1344" y="728">channel</text>
<g class="bx"><rect class="r" x="1352" y="600" width="71" height="25"/><text class="bt" x="1387" y="618">Ubx</text>
<rect class="r" x="1474" y="602" width="73" height="27"/><text class="bt" x="1510" y="622">p97</text>
<rect x="1392" y="651" width="74" height="24"/><text class="bt" x="1429" y="669">SVIP</text>
<rect x="1481" y="676" width="72" height="26"/><text class="bt" x="1517" y="695">Npl4</text>
<rect x="1481" y="702" width="72" height="25"/><text class="bt" x="1517" y="720">Ufd1</text></g>
<path d="M1423,612 L1472,612" stroke="#111" stroke-width="3" marker-end="url(#ab)"/>
<path class="ln" d="M1440,651 L1470,630" marker-end="url(#ab)"/>
<path class="ln" d="M1438,651 L1438,621 M1427,621 L1450,621"/>
<path class="ln" d="M1466,663 L1490,663 M1490,652 L1490,674"/>
<path class="ln" d="M1508,676 L1508,631" marker-end="url(#ab)"/>
<text class="lb" x="1517" y="751">Transport</text><text class="lb" x="1514" y="768">complex</text>
<path d="M1448,575 q20,-40 40,-20 q20,25 -20,30 q-30,5 0,-30 q20,-15 45,-20" stroke="#9b918e" stroke-width="2" fill="none"/>
<circle class="ci" cx="1537" cy="545" r="11"/><text class="lb" x="1537" y="551" style="font-size:13px">Ub</text>
<circle class="ci" cx="1532" cy="570" r="11"/><text class="lb" x="1532" y="576" style="font-size:13px">Ub</text>
<circle class="ci" cx="1511" cy="584" r="11"/><text class="lb" x="1511" y="590" style="font-size:13px">Ub</text>
<g class="bx"><rect x="1622" y="513" width="73" height="28"/><text class="bt" x="1658" y="533">Otu1</text>
<rect class="r" x="1622" y="541" width="73" height="26"/><text class="bt" x="1658" y="560">DOA1</text>
<rect class="r" x="1577" y="587" width="74" height="27"/><text class="bt" x="1614" y="607">DSK2</text>
<rect x="1661" y="587" width="74" height="27"/><text class="bt" x="1698" y="607">UFD2</text>
<rect class="r" x="1580" y="623" width="72" height="27"/><text class="bt" x="1616" y="643">RAD23</text>
<rect x="1580" y="650" width="72" height="25"/><text class="bt" x="1616" y="668">Png1</text>
<rect x="1661" y="623" width="74" height="27"/><text class="bt" x="1698" y="643">DUB</text></g>
<path class="dl" d="M1571,576 L1752,576" marker-end="url(#ao)"/>
<rect class="rr" x="1754" y="559" width="147" height="41" rx="16"/><text class="lb" x="1827" y="585">Proteasome</text>

<g class="bx"><rect class="r" x="1000" y="720" width="67" height="29"/><text class="bt" x="1033" y="740">Bak/Bax</text>
<rect x="1040" y="781" width="74" height="28"/><text class="bt" x="1077" y="801">Bcl2</text>
<rect class="r" x="1000" y="825" width="69" height="28"/><text class="bt" x="1034" y="845">Calpain</text>
<rect x="1000" y="887" width="69" height="28"/><text class="bt" x="1034" y="907">CASP12</text></g>
<path class="dl" d="M1032,749 L1032,823" marker-end="url(#ao)"/>
<path class="ln" d="M1055,781 L1055,757 M1044,757 L1067,757"/>
<path class="ln" d="M1032,853 L1032,886" marker-end="url(#ab)"/>
<path class="dl" d="M1032,915 L1032,1002" marker-end="url(#ao)"/>
<rect class="rr" x="969" y="1004" width="127" height="43" rx="16"/><text class="lb" x="1030" y="1031">Apoptosis</text>

<rect class="rr" x="46" y="725" width="149" height="41" rx="16"/><text class="lb" x="121" y="751">Prion diseases</text>
<rect class="rr" x="48" y="780" width="148" height="55" rx="16"/><text class="lb" x="120" y="804">Alzheimer's</text><text class="lb" x="118" y="821">disease</text>
<rect class="rr" x="48" y="852" width="148" height="55" rx="16"/><text class="lb" x="116" y="876">Parkinson's</text><text class="lb" x="116" y="893">disease</text>
<rect class="rr" x="48" y="922" width="148" height="56" rx="16"/><text class="lb" x="122" y="946">Type II</text><text class="lb" x="122" y="963">diabetes mellitus</text>

<ellipse class="hl" cx="462" cy="740" rx="18" ry="10"/><text class="lb" x="462" y="745">BiP</text>
<ellipse class="hl" cx="712" cy="742" rx="18" ry="10"/><text class="lb" x="712" y="747">BiP</text>
<ellipse class="hl" cx="857" cy="744" rx="18" ry="10"/><text class="lb" x="857" y="749">BiP</text>
<path d="M474,735 Q488,728 491,712" stroke="#9b918e" stroke-width="2" fill="none" marker-end="url(#ag)"/>
<path d="M724,737 Q732,728 733,712" stroke="#9b918e" stroke-width="2" fill="none" marker-end="url(#ag)"/>
<path d="M870,740 Q892,730 883,703" stroke="#9b918e" stroke-width="2" fill="none" marker-end="url(#ag)"/>
<path d="M600,706 L550,738" stroke="#9b918e" stroke-width="2" fill="none" marker-end="url(#ag)"/>
<path d="M682,695 L682,738" stroke="#9b918e" stroke-width="2" fill="none" marker-end="url(#ag)"/>
<path d="M756,709 L808,741" stroke="#9b918e" stroke-width="2" fill="none" marker-end="url(#ag)"/>
<g class="bx"><rect x="454" y="756" width="73" height="28"/><text class="bt" x="490" y="776">PERK</text>
<rect x="650" y="756" width="74" height="28"/><text class="bt" x="687" y="776">ATF6</text>
<rect x="848" y="756" width="75" height="28"/><text class="bt" x="885" y="776">IRE1</text>
<rect class="r" x="454" y="826" width="73" height="27"/><text class="bt" x="490" y="846">eIF2α</text>
<rect x="534" y="846" width="74" height="27"/><text class="bt" x="571" y="866">NRF2</text>
<rect x="415" y="887" width="71" height="27"/><text class="bt" x="450" y="907">GADD34</text>
<rect x="606" y="879" width="73" height="27"/><text class="bt" x="642" y="899">WFS1</text>
<rect x="694" y="846" width="74" height="27"/><text class="bt" x="731" y="866">S1P</text>
<rect x="694" y="879" width="74" height="27"/><text class="bt" x="731" y="899">S2P</text>
<rect x="849" y="826" width="73" height="27"/><text class="bt" x="885" y="846">TRAF2</text>
<rect x="853" y="887" width="71" height="27"/><text class="bt" x="888" y="907">ASK1</text>
<rect x="853" y="948" width="71" height="27"/><text class="bt" x="888" y="968">MKK7</text>
<rect x="853" y="1010" width="71" height="27"/><text class="bt" x="888" y="1030">JNK</text>
<rect x="756" y="996" width="72" height="28"/><text class="bt" x="792" y="1016">XBP</text>
<rect x="452" y="1009" width="70" height="28"/><text class="bt" x="487" y="1029">ATF4</text>
<rect x="554" y="1141" width="71" height="26"/><text class="bt" x="589" y="1160">CHOP</text>
<rect x="556" y="1200" width="72" height="25"/><text class="bt" x="592" y="1218">Bcl2</text></g>
<text class="lb" x="423" y="796">dimer</text><text class="lb" x="431" y="814">formation</text><text class="lb" x="512" y="818">+p</text>
<text class="lb" x="305" y="850">Attenuating</text><text class="lb" x="305" y="868">protein synthesis</text>
<text class="lb" x="459" y="879">-p</text>
<text class="lb" x="915" y="803">dimer</text><text class="lb" x="922" y="818">formation</text>
<text class="lb" x="730" y="815">COPII</text><text class="lb" x="742" y="839">(Golgi body)</text>
<rect class="hl" x="643" y="946" width="94" height="19"/><text class="lb" x="690" y="962">p50 ATF6</text>
<path class="ln" d="M491,784 L491,825" marker-end="url(#ab)"/>
<path class="ln" d="M497,786 L574,844" stroke-width="1.1" marker-end="url(#ab)"/>
<path class="dl" d="M454,840 L369,840" marker-end="url(#ao)"/>
<path class="ln" d="M474,887 L474,864 M474,864 L488,864"/>
<path class="ln" d="M491,853 L491,939" marker-end="url(#ab)"/>
<circle class="ci" cx="491" cy="948" r="8"/>
<path class="ln" d="M491,956 L491,1008" marker-end="url(#ab)"/>
<path class="ln" d="M466,1009 L466,915" marker-end="url(#ab)"/>
<path class="ln" d="M490,1045 L490,1097" marker-end="url(#ab)"/>
<path class="ln" d="M571,873 L517,1097" stroke-width="1.2" marker-end="url(#ab)"/>
<path class="ln" d="M686,784 L686,945" stroke-width="1.2" marker-end="url(#ab)"/>
<path class="ln" d="M686,965 L686,1097" stroke-width="1.2" marker-end="url(#ab)"/>
<path class="ln" d="M655,946 L655,907" marker-end="url(#ab)"/>
<path class="ln" d="M657,879 L657,798 M646,798 L668,798"/>
<path class="ln" d="M851,784 L794,994" stroke-width="1.2" marker-end="url(#ab)"/>
<path class="ln" d="M886,784 L886,825" marker-end="url(#ab)"/>
<path class="ln" d="M886,853 L886,886" marker-end="url(#ab)"/>
<path class="ln" d="M886,914 L886,947" marker-end="url(#ab)"/>
<path class="ln" d="M886,975 L886,1009" marker-end="url(#ab)"/>
<path class="ln" d="M925,1023 L967,1023" stroke-width="1.2" marker-end="url(#ao)"/>
<path class="ln" d="M784,1025 L697,1097" stroke-width="1.2" marker-end="url(#ab)"/>
<path d="M797,1025 L884,1097" stroke="#7f7572" stroke-width="1.2" fill="none" marker-end="url(#ag)"/>
<rect x="306" y="1057" width="713" height="8" fill="#b8aeab"/>
<text class="lb" x="284" y="1096">Nucleus</text>
<path class="ln" d="M429,1105 L585,1105 M628,1105 L789,1105 M827,1105 L969,1105"/>
<rect class="hl" x="459" y="1096" width="54" height="19"/><text class="lb" x="486" y="1111">AARE</text>
<rect class="hl" x="663" y="1096" width="51" height="19"/><text class="lb" x="688" y="1111">ERSE</text>
<rect class="hl" x="869" y="1096" width="49" height="19"/><text class="lb" x="893" y="1111">UPRE</text>
<path class="ln" d="M497,1113 L552,1150" stroke-width="1.2" marker-end="url(#ab)"/>
<path class="ln" d="M680,1113 L627,1150" stroke-width="1.2" marker-end="url(#ab)"/>
<path class="dl" d="M488,1115 L488,1160" stroke-width="1" marker-end="url(#ao)"/>
<path class="dl" d="M690,1115 L690,1160" stroke-width="1" marker-end="url(#ao)"/>
<path class="dl" d="M897,1115 L897,1160" stroke-width="1" marker-end="url(#ao)"/>
<text x="392" y="1185" style="font-size:16px">Amino acid metabolism</text><text x="392" y="1202" style="font-size:16px">Redox/ detoxification</text>
<text x="647" y="1185" style="font-size:16px">ER chaperone</text><text x="647" y="1202" style="font-size:16px">protein folding enzymes</text>
<text x="855" y="1202" style="font-size:16px">ERAD factors</text>
<path class="ln" d="M590,1167 L590,1193 M575,1193 L605,1193"/>
<path class="ln" d="M592,1225 L592,1251" marker-end="url(#ao)"/>
<rect class="rr" x="533" y="1253" width="124" height="41" rx="16"/><text class="lb" x="595" y="1278">Apoptosis</text>
<path class="dl" d="M490,1210 L490,1272" stroke-width="1" marker-end="url(#ao)"/>
<path class="dl" d="M690,1210 L690,1272" stroke-width="1" marker-end="url(#ao)"/>
<text class="lb" x="482" y="1293">Recovery of</text><text class="lb" x="482" y="1310">ER stress</text>
<text class="lb" x="714" y="1293">Recovery of</text><text class="lb" x="714" y="1310">ER stress</text>

<rect x="1135" y="857" width="643" height="346" fill="#ede7e5" stroke="#222" stroke-width="2.5"/>
<text class="bo" x="1276" y="890">Ubiquitin ligase complex</text>
<text class="bo" x="1333" y="924">ER membrane</text>
<text class="bo" x="1625" y="926">Cytoplasm</text>
<text x="1185" y="949" style="font-size:16px">ERAD- C</text>
<text x="1185" y="1056" style="font-size:16px">ERAD- L/ M</text>
<g class="bx">
<rect x="1184" y="957" width="71" height="25"/><text class="bt" x="1219" y="976">Doa10</text>
<rect x="1184" y="982" width="71" height="27"/><text class="bt" x="1219" y="1002">Ubc6/7</text>
<rect x="1255" y="982" width="73" height="27"/><text class="bt" x="1291" y="1002">Cue1</text>
<rect x="1430" y="929" width="74" height="28"/><text class="bt" x="1467" y="949">gp78</text>
<rect x="1430" y="957" width="74" height="25"/><text class="bt" x="1467" y="976">RMA1</text>
<rect x="1430" y="982" width="74" height="27"/><text class="bt" x="1467" y="1002">Derlin</text>
<rect x="1360" y="982" width="70" height="27"/><text class="bt" x="1395" y="1002">UBE2G2</text>
<rect class="r" x="1592" y="957" width="74" height="25"/><text class="bt" x="1629" y="976">Hsp40</text>
<rect x="1592" y="982" width="74" height="27"/><text class="bt" x="1629" y="1002">Hsp70</text>
<rect x="1592" y="1009" width="74" height="27"/><text class="bt" x="1629" y="1029">CHIP</text>
<rect x="1521" y="996" width="71" height="28"/><text class="bt" x="1556" y="1016">UbcH5</text>
<rect x="1680" y="957" width="74" height="25"/><text class="bt" x="1717" y="976">CHIP</text>
<rect x="1680" y="982" width="74" height="27"/><text class="bt" x="1717" y="1002">Parkin</text>
<rect x="1184" y="1070" width="73" height="26"/><text class="bt" x="1220" y="1089">Hrd3</text>
<rect x="1184" y="1096" width="73" height="27"/><text class="bt" x="1220" y="1116">Hrd1</text>
<rect x="1184" y="1123" width="73" height="26"/><text class="bt" x="1220" y="1142">Ubc7</text>
<rect x="1257" y="1070" width="71" height="26"/><text class="bt" x="1292" y="1089">Ubx2</text>
<rect x="1257" y="1096" width="71" height="27"/><text class="bt" x="1292" y="1116">Usa1</text>
<rect x="1257" y="1123" width="71" height="26"/><text class="bt" x="1292" y="1142">Cue1</text>
<rect x="1430" y="1041" width="74" height="27"/><text class="bt" x="1467" y="1061">VIMP</text>
<rect x="1430" y="1068" width="74" height="27"/><text class="bt" x="1467" y="1088">Derlin1</text>
<rect x="1358" y="1068" width="72" height="27"/><text class="bt" x="1394" y="1088">Sel1L</text>
<rect x="1342" y="1095" width="71" height="27"/><text class="bt" x="1377" y="1115">HERP</text>
<rect x="1413" y="1095" width="74" height="27"/><text class="bt" x="1450" y="1115">HRD1</text>
<rect x="1413" y="1122" width="74" height="27"/><text class="bt" x="1450" y="1142">Ubc6/7</text>
<rect x="1660" y="1068" width="73" height="27"/><text class="bt" x="1696" y="1088">RBX1</text>
<rect x="1660" y="1095" width="73" height="27"/><text class="bt" x="1696" y="1115">Cul1</text>
<rect class="r" x="1660" y="1122" width="73" height="27"/><text class="bt" x="1696" y="1142">Skp1</text>
<rect x="1588" y="1084" width="72" height="25"/><text class="bt" x="1624" y="1102">UbcH5</text>
<rect x="1588" y="1122" width="72" height="27"/><text class="bt" x="1624" y="1142">FBP</text>
</g>
<text class="lb" x="1263" y="1178">(Saccharomyces cerevisiae)</text>
<text class="lb" x="1453" y="1178">(Mammals)</text>

<text class="sans" x="1876" y="156" text-anchor="end" style="font-size:172px">B</text>
<text class="sans" x="1056" y="1333" style="font-size:98px" textLength="795">A375-mock cells</text>
<text class="sans" x="46" y="1336" style="font-size:26px;font-weight:bold">Data on KEGG graph</text>
<text class="sans" x="46" y="1366" style="font-size:26px;font-weight:bold">Rendered by Pathview</text>
</g>
</svg>
</body></html>
